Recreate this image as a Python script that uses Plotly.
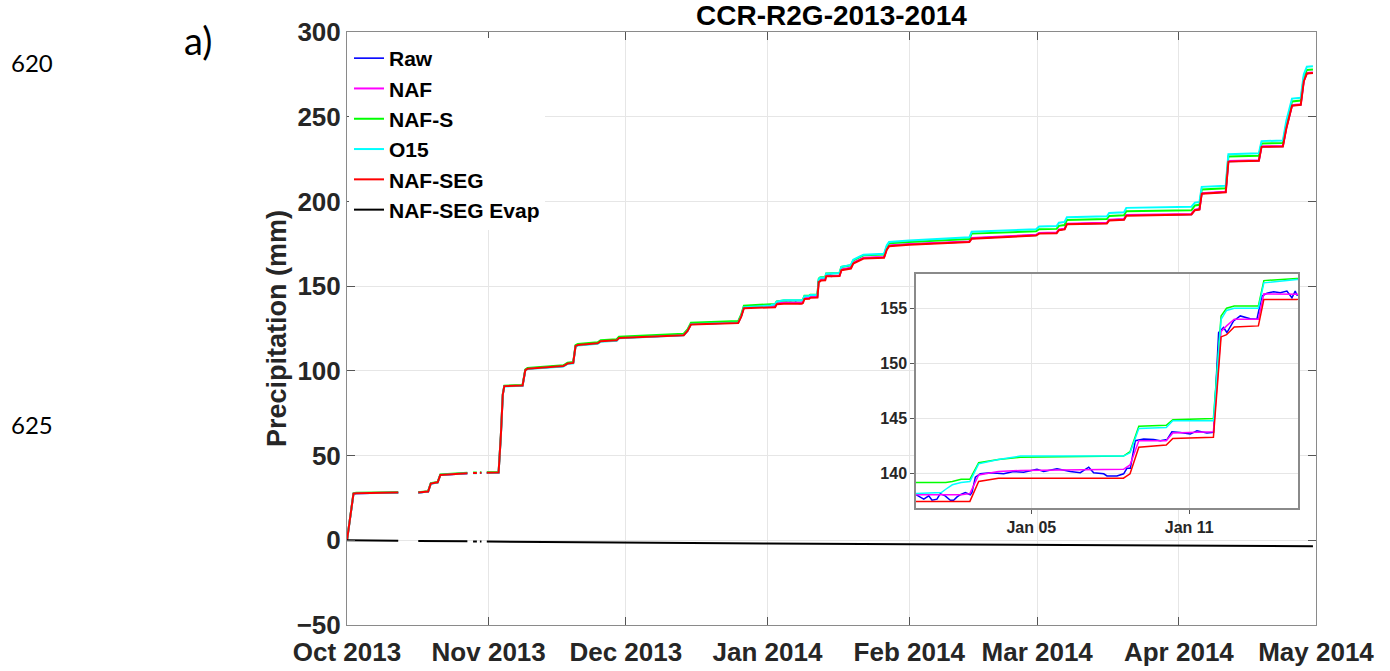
import plotly.graph_objects as go

# ---------------- data ----------------
dates = [
    "2013-10-01 00:00", "2013-10-01 18:00", "2013-10-02 10:00", "2013-10-03 00:00",
    "2013-10-12 05:00", "2013-10-14 00:00", "2013-10-16 14:00", "2013-10-18 18:00",
    "2013-10-19 08:00", "2013-10-20 20:00", "2013-10-21 10:00", "2013-10-27 08:00",
    "2013-10-28 00:00", "2013-10-28 14:00", "2013-10-29 10:00", "2013-10-29 20:00",
    "2013-10-30 02:00", "2013-10-30 10:00", "2013-10-31 00:00", "2013-10-31 14:00",
    "2013-11-03 04:00", "2013-11-03 16:00", "2013-11-04 02:00", "2013-11-04 10:00",
    "2013-11-08 10:00", "2013-11-09 00:00", "2013-11-09 12:00", "2013-11-17 08:00",
    "2013-11-18 06:00", "2013-11-19 12:00", "2013-11-20 00:00", "2013-11-20 12:00",
    "2013-11-24 20:00", "2013-11-25 12:00", "2013-11-29 00:00", "2013-11-29 12:00",
    "2013-12-13 16:00", "2013-12-14 12:00", "2013-12-15 06:00", "2013-12-25 14:00",
    "2013-12-26 06:00", "2013-12-26 20:00", "2013-12-31 12:00",
    "2014-01-01 14:00", "2014-01-01 18:00", "2014-01-02 00:00", "2014-01-02 08:00",
    "2014-01-02 16:00", "2014-01-03 00:00", "2014-01-03 18:00", "2014-01-04 14:00",
    "2014-01-08 12:00", "2014-01-08 18:00", "2014-01-09 02:00", "2014-01-10 03:00",
    "2014-01-10 09:00", "2014-01-11 22:00", "2014-01-12 05:00", "2014-01-12 10:00",
    "2014-01-12 17:00", "2014-01-13 15:00", "2014-01-13 20:00", "2014-01-15 02:00",
    "2014-01-16 18:00", "2014-01-17 04:00", "2014-01-19 06:00", "2014-01-19 18:00",
    "2014-01-21 06:00", "2014-01-22 00:00", "2014-01-26 12:00", "2014-01-27 02:00",
    "2014-01-27 14:00", "2014-02-01 00:00", "2014-02-14 04:00", "2014-02-14 16:00",
    "2014-02-28 18:00", "2014-03-01 10:00", "2014-03-05 06:00", "2014-03-05 18:00",
    "2014-03-07 00:00", "2014-03-07 12:00", "2014-03-16 06:00", "2014-03-16 18:00",
    "2014-03-20 00:00", "2014-03-20 12:00", "2014-04-03 18:00", "2014-04-04 12:00",
    "2014-04-05 12:00", "2014-04-06 00:00", "2014-04-11 06:00", "2014-04-11 20:00",
    "2014-04-18 12:00", "2014-04-19 02:00", "2014-04-23 18:00", "2014-04-24 12:00",
    "2014-04-25 18:00", "2014-04-27 16:00", "2014-04-28 08:00", "2014-04-29 00:00",
    "2014-04-30 08:00",
]

naf_seg = [
    0, 16.0, 27.5, 27.8, 28.2, None, 28.2, 28.8, 33.5, 34.2, 38.6, 39.6,
    None, 39.7, 39.7, None, 39.8, 39.8, None, 39.8, 40.0, 62.0, 86.0, 91.0,
    91.4, 100.3, 101.3, 102.8, 104.3, 104.7, 114.6, 115.2, 116.3, 117.5, 118.0, 119.4,
    121.0, 123.5, 127.4, 128.3, 132.0, 137.0, 137.5,
    137.5, 137.5, 137.5, 137.5, 137.5, 139.3, 139.6, 139.6, 139.6, 140.0, 142.4, 142.6,
    143.2, 143.3, 152.4, 152.6, 153.3, 153.4, 155.8, 155.8,
    156.0, 159.4, 160.4, 163.3, 165.3, 166.3, 166.8, 171.5, 173.5, 174.5, 176.1, 178.0,
    179.9, 181.0, 181.2, 183.0, 183.5, 186.5, 187.0, 188.8, 189.2, 191.6, 192.3, 194.8,
    195.2, 204.6, 205.4, 223.5, 224.0, 232.2, 232.4, 243.0, 256.5, 257.0, 271.0, 275.5,
    275.8,
]

naf = [
    0, 16.0, 27.5, 27.8, 28.2, None, 28.2, 28.8, 33.5, 34.2, 38.6, 39.6,
    None, 39.7, 39.7, None, 39.8, 39.8, None, 39.8, 40.0, 62.0, 86.0, 91.0,
    91.4, 100.3, 101.4, 102.9, 104.4, 104.8, 114.7, 115.3, 116.4, 117.6, 118.1, 119.5,
    121.2, 123.7, 127.6, 128.6, 132.4, 137.5, 138.1,
    138.1, 138.1, 138.1, 138.1, 138.2, 139.9, 140.2, 140.3, 140.4, 140.8, 143.0, 143.0,
    143.7, 143.8, 152.9, 153.4, 154.0, 154.0, 156.3, 156.2,
    156.2, 159.9, 160.9, 163.8, 165.8, 166.8, 167.2, 172.0, 174.0, 174.9, 176.4, 178.4,
    180.3, 181.4, 181.6, 183.4, 183.9, 186.9, 187.4, 189.2, 189.6, 192.0, 192.6, 195.1,
    195.5, 204.9, 205.7, 223.8, 224.3, 232.5, 232.7, 243.3, 256.8, 257.3, 271.3, 275.8,
    276.1,
]

naf_s = [
    0, 16.2, 27.7, 28.0, 28.4, None, 28.4, 29.0, 33.7, 34.4, 38.9, 39.9,
    None, 40.0, 40.0, None, 40.1, 40.1, None, 40.1, 40.3, 62.3, 86.3, 91.3,
    91.7, 100.7, 101.7, 103.3, 104.8, 105.2, 115.2, 115.8, 116.9, 118.1, 118.7, 120.1,
    121.9, 124.4, 128.4, 129.4, 133.3, 138.5, 139.2,
    139.2, 139.2, 139.3, 139.5, 139.5, 141.0, 141.3, 141.5, 141.6, 142.0, 144.3, 144.4,
    144.9, 145.0, 154.3, 155.0, 155.2, 155.2, 157.5, 157.7,
    157.8, 161.3, 162.3, 165.2, 167.2, 168.2, 168.6, 173.3, 175.3, 176.1, 177.8, 181.0,
    182.4, 183.6, 183.8, 185.6, 186.1, 189.0, 189.6, 191.4, 191.8, 194.2, 194.8, 197.6,
    198.0, 207.0, 207.8, 226.5, 227.0, 234.2, 234.5, 245.5, 259.0, 259.5, 273.5, 277.6,
    277.9,
]

o15 = [
    0, 15.9, 27.4, 27.7, 28.1, None, 28.1, 28.7, 33.4, 34.1, 38.5, 39.5,
    None, 39.6, 39.6, None, 39.7, 39.7, None, 39.7, 39.9, 61.8, 85.8, 90.8,
    91.2, 100.1, 101.1, 102.6, 104.1, 104.5, 114.3, 114.9, 116.0, 117.2, 117.8, 119.2,
    121.0, 123.5, 127.5, 128.5, 132.4, 137.6, 138.2,
    138.3, 138.6, 139.0, 139.2, 139.3, 140.9, 141.3, 141.6, 141.6, 141.9, 144.1, 144.2,
    144.8, 144.8, 154.0, 154.8, 155.0, 155.0, 157.3, 157.6,
    157.7, 161.4, 162.5, 165.6, 167.6, 168.6, 169.1, 174.0, 176.1, 177.0, 178.8, 182.1,
    183.6, 185.2, 185.5, 187.4, 187.9, 190.6, 191.2, 193.2, 193.6, 196.2, 196.9, 199.3,
    199.6, 208.6, 209.3, 227.9, 228.4, 235.6, 235.9, 247.5, 260.7, 261.2, 275.0, 279.5,
    279.8,
]

# Raw: same dates as above outside the inset window, denser readings inside it
raw_pre = [
    0, 15.9, 27.4, 27.7, 28.1, None, 28.1, 28.7, 33.4, 34.1, 38.5, 39.5,
    None, 39.6, 39.6, None, 39.7, 39.7, None, 39.7, 39.9, 61.8, 85.8, 90.9,
    91.3, 100.2, 101.3, 102.8, 104.3, 104.7, 114.6, 115.2, 116.3, 117.5, 118.0, 119.4,
    121.1, 123.6, 127.5, 128.5, 132.3, 137.4, 138.1,
]
raw_jan_dates = [
    "2013-12-31 15:00", "2013-12-31 22:00", "2014-01-01 02:30", "2014-01-01 05:30",
    "2014-01-01 10:00", "2014-01-01 13:00", "2014-01-01 17:30", "2014-01-01 22:10",
    "2014-01-02 01:10", "2014-01-02 04:20", "2014-01-02 07:20", "2014-01-02 11:50",
    "2014-01-02 16:25", "2014-01-02 17:55", "2014-01-02 21:00", "2014-01-03 01:30",
    "2014-01-03 10:40", "2014-01-03 22:50", "2014-01-04 07:55", "2014-01-04 17:00",
    "2014-01-05 05:10", "2014-01-05 11:15", "2014-01-05 23:25", "2014-01-06 11:35",
    "2014-01-06 20:40", "2014-01-07 04:20", "2014-01-07 08:50", "2014-01-07 18:00",
    "2014-01-07 21:00", "2014-01-08 06:05", "2014-01-08 12:10", "2014-01-08 15:10",
    "2014-01-08 18:15", "2014-01-08 22:50", "2014-01-09 06:25", "2014-01-09 15:30",
    "2014-01-09 21:35", "2014-01-10 03:40", "2014-01-10 08:10", "2014-01-10 15:50",
    "2014-01-11 00:55", "2014-01-11 07:00", "2014-01-11 16:05", "2014-01-11 22:10",
    "2014-01-12 02:45", "2014-01-12 07:15", "2014-01-12 10:20", "2014-01-12 16:25",
    "2014-01-12 22:30", "2014-01-13 07:35", "2014-01-13 13:40", "2014-01-13 18:15",
    "2014-01-13 22:50", "2014-01-14 04:55", "2014-01-14 10:55", "2014-01-14 17:00",
    "2014-01-14 21:35", "2014-01-15 00:35", "2014-01-15 02:05",
]
raw_jan = [
    138.1, 137.7, 138.0, 137.6, 137.7, 138.2, 138.0, 137.6,
    137.6, 137.9, 138.1, 138.3, 138.1, 138.3, 139.7, 140.0,
    140.1, 140.0, 140.2, 140.15, 140.4, 140.2, 140.45, 140.2,
    140.1, 140.6, 140.1, 140.0, 139.8, 139.8, 140.0, 140.5,
    140.5, 143.0, 143.15, 143.1, 143.0, 143.1, 143.8, 143.75,
    143.6, 143.9, 143.7, 143.75, 152.8, 153.25, 152.8, 153.85,
    154.3, 154.05, 154.0, 156.1, 156.35, 156.5, 156.4, 156.55,
    155.95, 156.55, 156.2,
]
raw_post = [
    156.1, 159.7, 160.7, 163.6, 165.6, 166.6, 167.0, 171.8, 173.8, 174.7, 176.2, 178.2,
    180.1, 181.2, 181.4, 183.2, 183.7, 186.7, 187.2, 189.0, 189.4, 191.8, 192.3, 194.9,
    195.3, 204.7, 205.5, 223.6, 224.1, 232.3, 232.5, 243.1, 256.6, 257.1, 271.1, 275.6,
    275.9,
]

evap_dates = [
    "2013-10-01 00:00", "2013-10-12 05:00", "2013-10-14 00:00", "2013-10-16 14:00",
    "2013-10-27 08:00", "2013-10-28 00:00", "2013-10-28 14:00", "2013-10-29 10:00",
    "2013-10-29 20:00", "2013-10-30 02:00", "2013-10-30 10:00", "2013-10-31 00:00",
    "2013-10-31 14:00", "2013-11-15 00:00", "2013-12-01 00:00", "2013-12-15 00:00",
    "2014-01-01 00:00", "2014-02-01 00:00", "2014-03-01 00:00", "2014-04-01 00:00",
    "2014-04-30 08:00",
]
evap = [0, -0.3, None, -0.45, -0.6, None, -0.65, -0.7, None, -0.7, -0.72, None,
        -0.75, -1.1, -1.4, -1.6, -1.9, -2.3, -2.7, -3.1, -3.5]

month_ticks = ["2013-10-01", "2013-11-01", "2013-12-01", "2014-01-01",
               "2014-02-01", "2014-03-01", "2014-04-01", "2014-05-01"]
month_labels = ["Oct 2013", "Nov 2013", "Dec 2013", "Jan 2014",
                "Feb 2014", "Mar 2014", "Apr 2014", "May 2014"]
y_ticks = [-50, 0, 50, 100, 150, 200, 250, 300]
inset_x_ticks = ["2014-01-05", "2014-01-11"]
inset_x_labels = ["Jan 05", "Jan 11"]
inset_y_ticks = [140, 145, 150, 155]

# ---------------- figure ----------------
FONT = "Liberation Sans, Arial, Helvetica, sans-serif"
n_pre = 43
n_post_start = 63
raw_dates = dates[:n_pre] + raw_jan_dates + dates[n_post_start:]
raw = raw_pre + raw_jan + raw_post

series = [
    ("Raw", raw_dates, raw, "#0000ff", 1.6),
    ("NAF", dates, naf, "#ff00ff", 2.0),
    ("NAF-S", dates, naf_s, "#00ff00", 2.0),
    ("O15", dates, o15, "#00ffff", 2.0),
    ("NAF-SEG", dates, naf_seg, "#ff0000", 2.0),
]

fig = go.Figure()
for name, xs, ys, col, w in series:
    fig.add_trace(go.Scatter(x=xs, y=ys, mode="lines", name=name,
                             line=dict(color=col, width=w),
                             xaxis="x", yaxis="y"))
fig.add_trace(go.Scatter(x=evap_dates, y=evap, mode="lines", name="NAF-SEG Evap",
                         line=dict(color="#000000", width=2), xaxis="x", yaxis="y"))

for name, xs, ys, col, w in series:
    fig.add_trace(go.Scatter(x=xs, y=ys, mode="lines", name=name, showlegend=False,
                             line=dict(color=col, width=1.5),
                             xaxis="x2", yaxis="y2"))

W, H = 1390, 671
L, R, T, B = 347, 74, 32, 46
pw, ph = W - L - R, H - T - B

def px(x):
    return (x - L) / pw

def py(y):
    return (H - B - y) / ph

ix0, ix1, iy0, iy1 = 916, 1298, 274, 508  # inset box in pixels

axis_common = dict(showline=True, linecolor="#8a8a8a", linewidth=1, mirror="ticks",
                   ticks="inside", ticklen=8, tickcolor="#555555", tickwidth=1,
                   showgrid=True, gridcolor="#e6e6e6", gridwidth=1, zeroline=False)

fig.update_layout(
    width=W, height=H,
    margin=dict(l=L, r=R, t=T, b=B, autoexpand=False),
    paper_bgcolor="white", plot_bgcolor="white",
    font=dict(family=FONT, color="#262626"),
    title=dict(text="CCR-R2G-2013-2014", x=0.5, xref="paper", xanchor="center",
               y=1 - 15 / H, yref="container", yanchor="middle",
               font=dict(family=FONT, size=28, color="black", weight="bold")),
    xaxis=dict(type="date", range=["2013-10-01", "2014-05-01"],
               tickvals=month_ticks, ticktext=month_labels, ticklabelstandoff=4,
               tickfont=dict(family=FONT, size=26, color="#262626", weight="bold"),
               **axis_common),
    yaxis=dict(range=[-50, 300], tickvals=y_ticks,
               tickfont=dict(family=FONT, size=26, color="#262626", weight="bold"),
               title=dict(text="Precipitation (mm)", standoff=2,
                          font=dict(family=FONT, size=27, color="#262626", weight="bold")),
               **axis_common),
    xaxis2=dict(type="date", domain=[px(ix0), px(ix1)], anchor="y2",
                range=["2013-12-31 14:53", "2014-01-15 03:07"],
                tickvals=inset_x_ticks, ticktext=inset_x_labels,
                tickfont=dict(family=FONT, size=16, color="#262626", weight="bold"),
                showline=True, linecolor="#8a8a8a", linewidth=1.5, mirror=True,
                ticks="outside", ticklen=4, tickcolor="#555555",
                showgrid=True, gridcolor="#e6e6e6", zeroline=False),
    yaxis2=dict(domain=[py(iy1), py(iy0)], anchor="x2", range=[136.9, 158.1],
                tickvals=inset_y_ticks,
                tickfont=dict(family=FONT, size=16, color="#262626", weight="bold"),
                showline=True, linecolor="#8a8a8a", linewidth=1.5, mirror=True,
                ticks="outside", ticklen=4, tickcolor="#555555",
                showgrid=True, gridcolor="#e6e6e6", zeroline=False),
    legend=dict(x=px(349), y=py(38), xanchor="left", yanchor="top",
                bgcolor="white", borderwidth=0,
                font=dict(family=FONT, size=21, color="black", weight="bold")),
    showlegend=True,
)

# white panel behind the inset (covers the main grid there)
iw, ih = ix1 - ix0, iy1 - iy0
fig.add_shape(type="rect", xref="x2 domain", yref="y2 domain", layer="below",
              x0=(876 - ix0) / iw, x1=(1301 - ix0) / iw,
              y0=(iy1 - 532) / ih, y1=(iy1 - 260) / ih,
              fillcolor="white", line=dict(width=0))

fig.add_annotation(text="a)", xref="paper", yref="paper", x=px(198), y=py(40),
                   xanchor="center", yanchor="middle", showarrow=False,
                   font=dict(family="Lato, Noto Sans, sans-serif", size=38, color="black"))
for label, yy in (("620", 62), ("625", 425)):
    fig.add_annotation(text=label, xref="paper", yref="paper", x=px(9), y=py(yy),
                       xanchor="left", yanchor="middle", showarrow=False,
                       font=dict(family="Lato, Noto Sans, sans-serif", size=24, color="black"))

fig.write_html("out.html", config={"displayModeBar": False},
               post_script="document.body.style.margin='0';document.body.style.overflow='hidden';")
